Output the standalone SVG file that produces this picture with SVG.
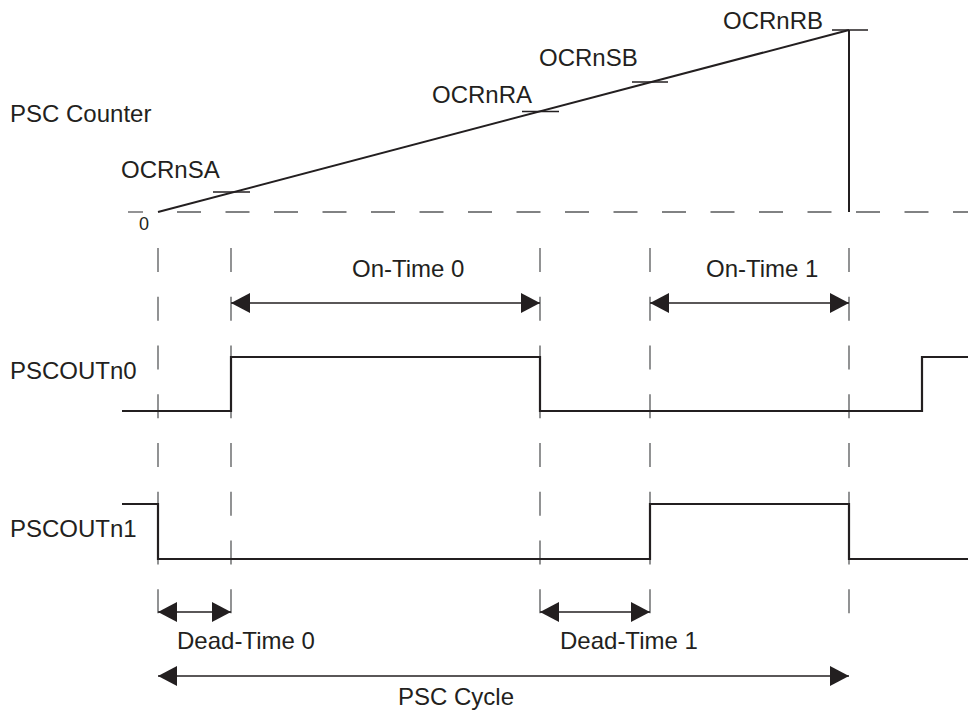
<svg xmlns="http://www.w3.org/2000/svg" width="968" height="715" viewBox="0 0 968 715">
<defs>
<style>
text{font-family:"Liberation Sans",Arial,sans-serif;font-size:24px;fill:#231f20}
.wave{fill:none;stroke:#231f20;stroke-width:2.2}
.dash{fill:none;stroke:#58595b;stroke-width:1.3}
.thin{fill:none;stroke:#231f20;stroke-width:1.3}
.arr{fill:none;stroke:#231f20;stroke-width:1.3;marker-start:url(#ah);marker-end:url(#ah)}
</style>
<marker id="ah" viewBox="0 0 19 20" refX="19" refY="10" markerWidth="19" markerHeight="20" markerUnits="userSpaceOnUse" orient="auto-start-reverse">
<path d="M0,0 L19,10 L0,20 Z" fill="#231f20"/>
</marker>
</defs>
<rect width="968" height="715" fill="#fff"/>
<g id="labels">
<text x="10" y="122">PSC Counter</text>
<text x="121" y="178">OCRnSA</text>
<text x="432" y="103">OCRnRA</text>
<text x="539" y="66">OCRnSB</text>
<text x="723" y="29">OCRnRB</text>
<text x="139" y="230" style="font-size:18px">0</text>
<text x="10" y="379">PSCOUTn0</text>
<text x="10" y="537">PSCOUTn1</text>
<text x="352" y="277">On-Time 0</text>
<text x="706" y="277">On-Time 1</text>
<text x="177" y="649">Dead-Time 0</text>
<text x="560" y="649">Dead-Time 1</text>
<text x="456" y="705" text-anchor="middle">PSC Cycle</text>
</g>
<g id="counter">
<line class="dash" x1="128" y1="212" x2="143" y2="212"/>
<line class="dash" x1="177" y1="212" x2="968" y2="212" stroke-dasharray="24 24.5"/>
<line class="wave" x1="158" y1="212" x2="849" y2="30" style="stroke-width:2"/>
<line class="wave" x1="849" y1="30" x2="849" y2="212" style="stroke-width:2"/>
<line class="thin" x1="213" y1="192" x2="250" y2="192"/>
<line class="thin" x1="522" y1="111.5" x2="559" y2="111.5"/>
<line class="thin" x1="632" y1="82" x2="668" y2="82"/>
<line class="thin" x1="832" y1="30" x2="868" y2="30"/>
</g>
<g id="guides">
<line class="dash" x1="158" y1="248" x2="158" y2="626" stroke-dasharray="24 24.75"/>
<line class="dash" x1="231" y1="248" x2="231" y2="626" stroke-dasharray="24 24.75"/>
<line class="dash" x1="540" y1="248" x2="540" y2="626" stroke-dasharray="24 24.75"/>
<line class="dash" x1="650" y1="248" x2="650" y2="626" stroke-dasharray="24 24.75"/>
<line class="dash" x1="849" y1="248" x2="849" y2="626" stroke-dasharray="24 24.75"/>
</g>
<g id="PSCOUTn0">
<polyline class="wave" points="122,411 231,411 231,357 540,357 540,411 922,411 922,357 968,357"/>
</g>
<g id="PSCOUTn1">
<polyline class="wave" points="122,504 158,504 158,559 650,559 650,504 849,504 849,559 968,559"/>
</g>
<g id="connectors">
<line class="arr" x1="231" y1="303" x2="540" y2="303"/>
<line class="arr" x1="650" y1="303" x2="849" y2="303"/>
<line class="arr" x1="158" y1="612" x2="231" y2="612"/>
<line class="arr" x1="540" y1="612" x2="650" y2="612"/>
<line class="arr" x1="158" y1="676" x2="849" y2="676"/>
</g>
</svg>
